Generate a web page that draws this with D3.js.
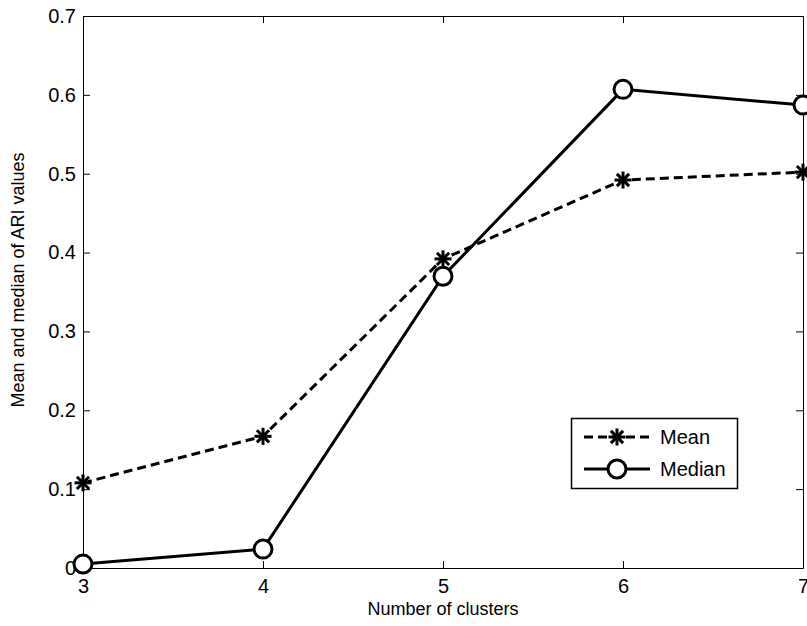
<!DOCTYPE html>
<html>
<head>
<meta charset="utf-8">
<script src="https://cdn.jsdelivr.net/npm/d3@7/dist/d3.min.js"></script>
<style>
  html, body { margin: 0; padding: 0; background: #fff; }
  svg { display: block; }
  text { font-family: "Liberation Sans", Arial, Helvetica, sans-serif; fill: #000; }
</style>
</head>
<body>
<script>
// Cluster counts and ARI summary statistics
const clusters = [3, 4, 5, 6, 7];
const meanARI = [0.108, 0.167, 0.392, 0.492, 0.502];
const medianARI = [0.005, 0.024, 0.370, 0.607, 0.587];
const yTicks = [0, 0.1, 0.2, 0.3, 0.4, 0.5, 0.6, 0.7];
const xTicks = [3, 4, 5, 6, 7];

const W = 807, H = 626;
const plot = { left: 83, right: 803, top: 16, bottom: 568 };

const svg = d3.select("body").append("svg")
  .attr("width", W).attr("height", H);

const x = d3.scaleLinear().domain([3, 7]).range([plot.left, plot.right]);
const y = d3.scaleLinear().domain([0, 0.7]).range([plot.bottom, plot.top]);

const tickLen = 7;
const fmtY = d => d === 0 ? "0" : d3.format(".1f")(d);
const fmtX = d3.format("d");

// Bottom axis with inward ticks
const gx = svg.append("g").attr("transform", `translate(0,${plot.bottom})`)
  .call(d3.axisBottom(x).tickValues(xTicks).tickSizeInner(-tickLen).tickSizeOuter(0)
    .tickPadding(11).tickFormat(fmtX));
// Top axis (ticks only)
const gxt = svg.append("g").attr("transform", `translate(0,${plot.top})`)
  .call(d3.axisTop(x).tickValues(xTicks).tickSizeInner(-tickLen).tickSizeOuter(0).tickFormat(""));
// Left axis
const gy = svg.append("g").attr("transform", `translate(${plot.left},0)`)
  .call(d3.axisLeft(y).tickValues(yTicks).tickSizeInner(-tickLen).tickSizeOuter(0)
    .tickPadding(7).tickFormat(fmtY));
// Right axis (ticks only)
const gyr = svg.append("g").attr("transform", `translate(${plot.right},0)`)
  .call(d3.axisRight(y).tickValues(yTicks).tickSizeInner(-tickLen).tickSizeOuter(0).tickFormat(""));

[gx, gxt, gy, gyr].forEach(g => {
  g.select(".domain").attr("stroke", "#000").attr("stroke-width", 1);
  g.selectAll(".tick line").attr("stroke", "#000").attr("stroke-width", 1);
  g.selectAll(".tick text").attr("font-size", 20).attr("fill", "#000")
    .style("font-family", '"Liberation Sans", Arial, sans-serif');
});

// Axis titles
svg.append("text")
  .attr("x", (plot.left + plot.right) / 2).attr("y", 615)
  .attr("text-anchor", "middle").attr("font-size", 18)
  .text("Number of clusters");
svg.append("text")
  .attr("transform", `translate(24,${(plot.top + plot.bottom) / 2 - 12}) rotate(-90)`)
  .attr("text-anchor", "middle").attr("font-size", 18)
  .text("Mean and median of ARI values");

const line = d3.line().x(d => x(d[0])).y(d => y(d[1]));
const meanPts = clusters.map((c, i) => [c, meanARI[i]]);
const medPts = clusters.map((c, i) => [c, medianARI[i]]);

const dash = "9,5";
const lw = 3;

// Asterisk marker (plus overlaid with a cross)
function asterisk(g, cx, cy, r) {
  const d = r * 0.72;
  const segs = [[-r, 0, r, 0], [0, -r, 0, r], [-d, -d, d, d], [-d, d, d, -d]];
  segs.forEach(s => g.append("line")
    .attr("x1", cx + s[0]).attr("y1", cy + s[1]).attr("x2", cx + s[2]).attr("y2", cy + s[3])
    .attr("stroke", "#000").attr("stroke-width", 3));
}

// Mean series
svg.append("path").datum(meanPts).attr("d", line)
  .attr("fill", "none").attr("stroke", "#000").attr("stroke-width", lw)
  .attr("stroke-dasharray", dash);
const gMean = svg.append("g");
meanPts.forEach(p => asterisk(gMean, x(p[0]), y(p[1]), 8.5));

// Median series
svg.append("path").datum(medPts).attr("d", line)
  .attr("fill", "none").attr("stroke", "#000").attr("stroke-width", lw);
svg.append("g").selectAll("circle").data(medPts).join("circle")
  .attr("cx", d => x(d[0])).attr("cy", d => y(d[1])).attr("r", 9)
  .attr("fill", "#fff").attr("stroke", "#000").attr("stroke-width", 3);

// Legend
const lg = svg.append("g");
lg.append("rect").attr("x", 571.5).attr("y", 418.5).attr("width", 166).attr("height", 70)
  .attr("fill", "#fff").attr("stroke", "#000").attr("stroke-width", 1.5);
const rows = [
  { label: "Mean", y: 437, dashed: true },
  { label: "Median", y: 469, dashed: false }
];
rows.forEach(r => {
  lg.append("line").attr("x1", 584).attr("x2", 650).attr("y1", r.y).attr("y2", r.y)
    .attr("stroke", "#000").attr("stroke-width", lw)
    .attr("stroke-dasharray", r.dashed ? dash : null);
  if (r.dashed) asterisk(lg, 617, r.y, 8.5);
  else lg.append("circle").attr("cx", 617).attr("cy", r.y).attr("r", 9)
    .attr("fill", "#fff").attr("stroke", "#000").attr("stroke-width", 3);
  lg.append("text").attr("x", 660).attr("y", r.y + 7).attr("font-size", 20).text(r.label);
});
</script>
</body>
</html>
